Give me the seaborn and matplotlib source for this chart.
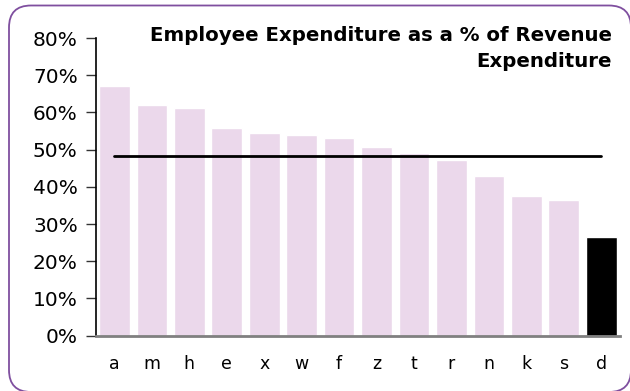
import numpy as np
import matplotlib
matplotlib.use("Agg")
import matplotlib.pyplot as plt
from matplotlib.patches import FancyBboxPatch
from matplotlib.transforms import IdentityTransform
from matplotlib.ticker import FuncFormatter
import seaborn as sns

# Employee expenditure as a share of revenue expenditure, by organisation
categories = ["a", "m", "h", "e", "x", "w", "f", "z", "t", "r", "n", "k", "s", "d"]
values = [67.1, 62.0, 61.2, 55.8, 54.5, 53.9, 53.1, 50.7, 49.1, 47.2, 42.9, 37.6, 36.5, 26.5]
average = [48.3] * len(categories)
highlight = "d"

bar_fill = "#EBD8EB"
bar_colors = ["#000000" if c == highlight else bar_fill for c in categories]

sns.set_theme(style="white")
plt.rcParams["font.family"] = ["DejaVu Sans"]

fig = plt.figure(figsize=(6.3, 3.91), dpi=100)
ax = fig.add_axes([0.152, 0.1414, 0.832, 0.7614])

sns.barplot(x=categories, y=values, hue=categories, palette=bar_colors,
            legend=False, width=0.82, saturation=1, ax=ax)
sns.lineplot(x=np.arange(len(categories)), y=average, color="black",
             linewidth=2, ax=ax)

ax.set_xlim(-0.5, len(categories) - 0.5)
ax.set_ylim(0, 80)
ax.set_yticks(np.arange(0, 81, 10))
ax.yaxis.set_major_formatter(FuncFormatter(lambda v, p: f"{v:.0f}%"))
ax.set_xlabel("")
ax.set_ylabel("")

for side in ("top", "right"):
    ax.spines[side].set_visible(False)
ax.spines["left"].set_color("black")
ax.spines["left"].set_linewidth(1.2)
ax.spines["bottom"].set_color("#808080")
ax.spines["bottom"].set_linewidth(2)

ax.tick_params(axis="y", left=True, length=7, width=1, color="#333333",
               labelsize=14.5, labelcolor="black", pad=6)
ax.tick_params(axis="x", bottom=False, labelsize=12.5, labelcolor="black", pad=8)

fig.text(0.971, 0.9335, "Employee Expenditure as a % of Revenue\nExpenditure",
         ha="right", va="top", fontsize=14.2, fontweight="bold",
         linespacing=1.45, color="black")

frame = FancyBboxPatch((9, -1), 622, 386.5,
                       boxstyle="round,pad=0,rounding_size=22",
                       transform=IdentityTransform(), fill=False,
                       edgecolor="#7F4F9F", linewidth=1.3)
fig.patches.append(frame)

fig.savefig("out.png", dpi=100)
